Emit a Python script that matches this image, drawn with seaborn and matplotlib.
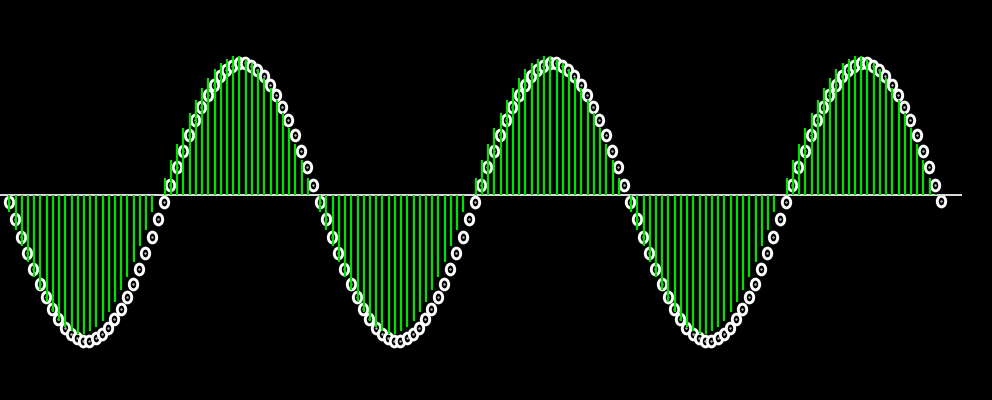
import matplotlib
matplotlib.use("Agg")
import matplotlib.pyplot as plt
import matplotlib.transforms as mtransforms
from matplotlib.path import Path
import seaborn as sns
import numpy as np
import pandas as pd

sample_index = list(range(151))
sample_values = [
    0.0, -0.125, -0.249, -0.368, -0.482, -0.588, -0.685, -0.771, -0.844, -0.905,
    -0.951, -0.982, -0.998, -0.998, -0.982, -0.951, -0.905, -0.844, -0.771, -0.685,
    -0.588, -0.482, -0.368, -0.249, -0.125, 0.0, 0.125, 0.249, 0.368, 0.482,
    0.588, 0.685, 0.771, 0.844, 0.905, 0.951, 0.982, 0.998, 0.998, 0.982,
    0.951, 0.905, 0.844, 0.771, 0.685, 0.588, 0.482, 0.368, 0.249, 0.125,
    0.0, -0.125, -0.249, -0.368, -0.482, -0.588, -0.685, -0.771, -0.844, -0.905,
    -0.951, -0.982, -0.998, -0.998, -0.982, -0.951, -0.905, -0.844, -0.771, -0.685,
    -0.588, -0.482, -0.368, -0.249, -0.125, 0.0, 0.125, 0.249, 0.368, 0.482,
    0.588, 0.685, 0.771, 0.844, 0.905, 0.951, 0.982, 0.998, 0.998, 0.982,
    0.951, 0.905, 0.844, 0.771, 0.685, 0.588, 0.482, 0.368, 0.249, 0.125,
    0.0, -0.125, -0.249, -0.368, -0.482, -0.588, -0.685, -0.771, -0.844, -0.905,
    -0.951, -0.982, -0.998, -0.998, -0.982, -0.951, -0.905, -0.844, -0.771, -0.685,
    -0.588, -0.482, -0.368, -0.249, -0.125, 0.0, 0.125, 0.249, 0.368, 0.482,
    0.588, 0.685, 0.771, 0.844, 0.905, 0.951, 0.982, 0.998, 0.998, 0.982,
    0.951, 0.905, 0.844, 0.771, 0.685, 0.588, 0.482, 0.368, 0.249, 0.125,
    0.01,
]

df = pd.DataFrame({"n": sample_index, "v": sample_values})

sns.set_style("dark", {"axes.facecolor": "black", "figure.facecolor": "black"})

fig = plt.figure(figsize=(9.92, 4.0), dpi=100, facecolor="black")
ax = fig.add_axes([0, 0, 962 / 992, 1])
ax.set_facecolor("black")

# elliptical ring marker (taller than wide)
circ = Path.unit_circle()
ellipse = Path(circ.vertices * np.array([0.78, 1.0]), circ.codes)

# markers, drawn with a small pixel offset (shadow-like)
off = mtransforms.offset_copy(ax.transData, fig=fig, x=5.5, y=-7.0, units="dots")
sns.scatterplot(data=df, x="n", y="v", ax=ax, marker=ellipse, s=60,
                facecolor="black", edgecolor="white", linewidth=2.1,
                transform=off, zorder=2, legend=False)
sns.scatterplot(data=df, x="n", y="v", ax=ax, marker="o", s=3,
                color="#bbbbbb", linewidth=0, transform=off, zorder=2.1,
                legend=False)

# stems
ax.vlines(df["n"], 0, df["v"], colors="#00e000", linewidth=1.6, zorder=3,
          capstyle="butt")
# baseline
ax.axhline(0, color="#e0e0e0", linewidth=1.4, zorder=2.5)

ax.set_xlim(-0.5, 154.2)
ax.set_ylim(-1.475, 1.403)
ax.set_xticks([])
ax.set_yticks([])
ax.set_xlabel("")
ax.set_ylabel("")
for s in ax.spines.values():
    s.set_visible(False)
ax.grid(False)

fig.savefig("out.png", dpi=100, facecolor="black")
